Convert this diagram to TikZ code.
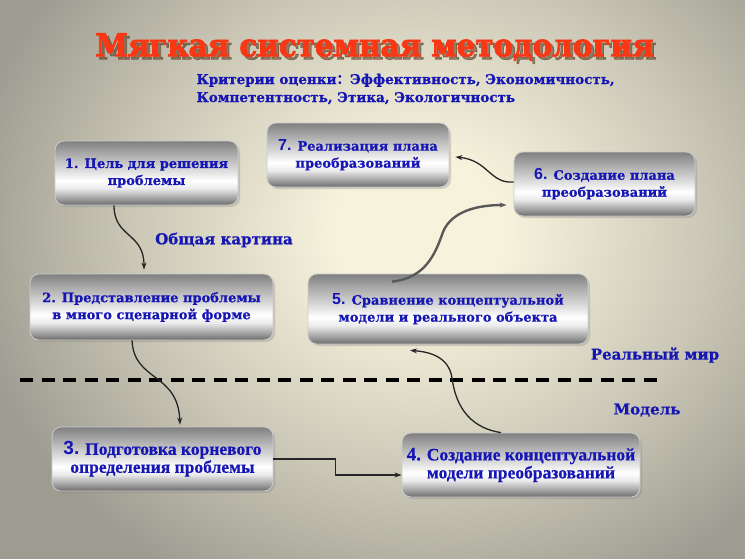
\documentclass[tikz,border=0pt]{standalone}
\usepackage{graphicx}
\usepackage{fontspec}
\setmainfont{DejaVu Serif}[BoldFeatures={FakeBold=0.7}]
\newfontfamily\tnr{Liberation Serif}[BoldFeatures={FakeBold=0.6}]
\newfontfamily\arl{Liberation Sans}
\newfontfamily\cjk{Noto Sans CJK SC}
\newfontfamily\titlefont[BoldFeatures={FakeBold=2.6}]{DejaVu Serif}
\usetikzlibrary{arrows.meta,shadows}
\definecolor{txtblue}{RGB}{22,22,180}
\definecolor{ttlred}{RGB}{250,55,20}
\definecolor{bgc}{RGB}{246,242,220}
\definecolor{bge}{RGB}{158,156,145}
\pgfdeclareverticalshading{metal}{100bp}{color(0bp)=(black!58); color(25bp)=(black!58); color(30bp)=(black!38); color(38bp)=(white!92!black); color(44bp)=(white); color(52.5bp)=(black!14); color(65bp)=(black!33); color(75bp)=(black!50); color(100bp)=(black!50)}
\pgfdeclareradialshading{bgshade}{\pgfpoint{0bp}{0bp}}{color(0bp)=(bgc); color(3bp)=(bgc); color(10bp)=(bge!50!bgc); color(16bp)=(bge); color(50bp)=(bge)}
\tikzset{
  stepbox/.style={rectangle, rounded corners=9pt, shading=metal, draw=white!80!black, line width=0.8pt,
    drop shadow={opacity=0.3, shadow xshift=2pt, shadow yshift=-2pt},
    align=center, text=txtblue, font=\bfseries\fontsize{13}{17}\selectfont, inner sep=2pt},
  conn/.style={draw=black!85, line width=1.3pt, -{Stealth[length=7pt,width=5pt]}},
  lbl/.style={text=txtblue, font=\bfseries\fontsize{15}{18}\selectfont},
}
\begin{document}
\begin{tikzpicture}[x=1pt,y=-1pt]
\useasboundingbox (0,0) rectangle (745,558);
\begin{scope}
\clip (0,0) rectangle (745,558);
\shade[shading=bgshade] (-300,-400) rectangle (1140,860);
\end{scope}

% title
\node[text=black!55!brown, opacity=0.55, font=\titlefont\bfseries\fontsize{31.5}{36}\selectfont] at (377.5,50) {\scalebox{0.93}[1]{Мягкая системная методология}};
\node (title) [text=ttlred, font=\titlefont\bfseries\fontsize{31.5}{36}\selectfont] at (374.5,47) {\scalebox{0.93}[1]{Мягкая системная методология}};

\node (crit) [anchor=west, align=left, text=txtblue, font=\bfseries\fontsize{13.5}{18}\selectfont] at (193,89)
  {Критерии оценки{\cjk ：}Эффективность, Экономичность,\\Компетентность, Этика, Экологичность};

% boxes
\node (b1) [stepbox, minimum width=183pt, minimum height=64pt] at (146.5,173) {1. Цель для решения\\проблемы};
\node (b7) [stepbox, minimum width=182pt, minimum height=64pt] at (358,155) {{\arl\fontsize{16}{17}\selectfont 7.} Реализация плана\\преобразований};
\node (b6) [stepbox, minimum width=181pt, minimum height=64pt] at (604.5,184) {{\arl\fontsize{16}{17}\selectfont 6.} Создание плана\\преобразований};
\node (b2) [stepbox, minimum width=243pt, minimum height=66pt] at (151.5,307) {2. Представление проблемы\\в много сценарной форме};
\node (b5) [stepbox, minimum width=280pt, minimum height=70pt] at (448,309) {{\arl\fontsize{16}{17}\selectfont 5.} Сравнение концептуальной\\модели и реального объекта};
\node (b3) [stepbox, minimum width=221pt, minimum height=64pt, font=\tnr\bfseries\fontsize{17.5}{18}\selectfont] at (162.5,459) {{\arl\fontsize{19}{18}\selectfont 3.} Подготовка корневого\\определения проблемы};
\node (b4) [stepbox, minimum width=238pt, minimum height=64pt, font=\tnr\bfseries\fontsize{17.5}{18}\selectfont] at (521,465) {{\fontsize{19}{18}\selectfont 4.} Создание концептуальной\\модели преобразований};

% labels
\node (l1) [lbl] at (224,240) {Общая картина};
\node (l2) [lbl] at (655,355) {Реальный мир};
\node (l3) [lbl] at (647,410) {Модель};

% dashed line
\coordinate (dl) at (20,380);
\coordinate (dr) at (662,380);
\draw[line width=3.2pt, dash pattern=on 13pt off 8.5pt] (dl) -- (dr);

% connectors
\draw[conn] ([xshift=-32.5pt]b1.south) .. controls (114,238) and (144,232) .. ([xshift=-7.5pt,yshift=4pt]b2.north);
\draw[conn] ([xshift=-19.5pt]b2.south) .. controls (134,382) and (178,372) .. ([xshift=17.5pt,yshift=2pt]b3.north);
\draw[conn] (b3.east) -- ++(62,0) |- ([yshift=-10pt]b4.west);
\draw[conn] ([xshift=-20pt]b4.north) .. controls (465,427) and (455,400) .. (452,378) .. controls (449,358) and (432,352) .. ([xshift=-38pt,yshift=-6pt]b5.south);
\draw[conn, draw=black!65, line width=2.4pt] ([xshift=-56pt,yshift=-8pt]b5.north) .. controls (425,278) and (435,255) .. (443,232) .. controls (452,210) and (480,205) .. ([xshift=-7pt,yshift=-21pt]b6.west);
\draw[conn] ([yshift=2pt]b6.west) .. controls (490,184) and (488,160) .. ([xshift=6pt,yshift=-2pt]b7.east);
\end{tikzpicture}
\end{document}
